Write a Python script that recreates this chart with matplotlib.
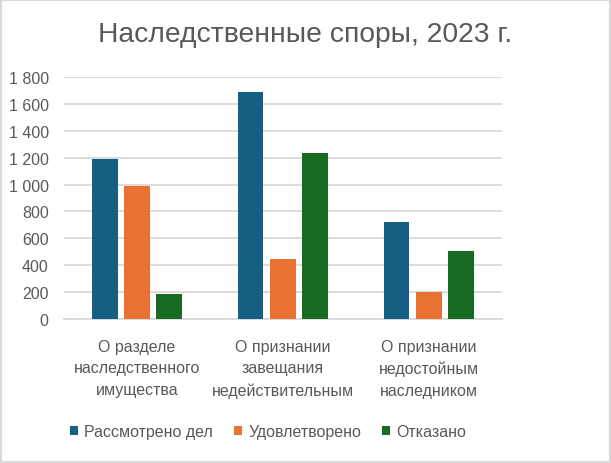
import numpy as np
import matplotlib
matplotlib.use('Agg')
import matplotlib.pyplot as plt
from matplotlib.patches import Rectangle
from matplotlib.ticker import FuncFormatter

plt.rcParams['font.family'] = ['Liberation Sans', 'DejaVu Sans']

categories = ['О разделе\nнаследственного\nимущества',
              'О признании\nзавещания\nнедействительным',
              'О признании\nнедостойным\nнаследником']
series_names = ['Рассмотрено дел', 'Удовлетворено', 'Отказано']
considered = [1190, 1687, 722]
satisfied = [990, 450, 205]
refused = [190, 1235, 508]
colors = ['#156082', '#E97132', '#196B24']

fig = plt.figure(figsize=(6.11, 4.64), dpi=100)
ax = fig.add_axes([64 / 611, 1 - 320.3 / 464, (501.7 - 64) / 611, (320.3 - 77.7) / 464])

x = np.arange(len(categories))
width = 0.176
step = 0.221
for i, (vals, name, c) in enumerate(zip([considered, satisfied, refused], series_names, colors)):
    ax.bar(x + (i - 1) * step, vals, width, color=c, label=name, zorder=3)

ax.set_xlim(-0.5, 2.5)
ax.set_ylim(0, 1800)
ax.set_yticks(np.arange(0, 1801, 200))
ax.yaxis.set_major_formatter(FuncFormatter(lambda v, p: f'{int(v):,}'.replace(',', ' ')))
ax.grid(axis='y', color='#d9d9d9', linewidth=1.3, zorder=0)
for s in ['top', 'right', 'left']:
    ax.spines[s].set_visible(False)
ax.spines['bottom'].set_color('#d9d9d9')
ax.spines['bottom'].set_linewidth(1.3)
ax.tick_params(axis='both', length=0, labelsize=11.5, colors='#595959')
ax.tick_params(axis='y', pad=11)
ax.set_xticks(x)
ax.set_xticklabels(categories, linespacing=1.55)
ax.tick_params(axis='x', pad=14)

fig.text(0.5, 1 - 35 / 464, 'Наследственные споры, 2023 г.', ha='center', va='center',
         fontsize=20.3, color='#595959')

leg = fig.legend(loc='center left', bbox_to_anchor=(70 / 611, 1 - 433 / 464), ncol=3, frameon=False,
                 fontsize=11.5, handlelength=0.5, handleheight=0.5, handletextpad=0.4,
                 columnspacing=1.3, labelcolor='#595959', borderpad=0, borderaxespad=0)

fig.patches.append(Rectangle((0.002, 0.002), 0.996, 0.996, transform=fig.transFigure,
                             fill=False, edgecolor='#d9d9d9', linewidth=1.5))

fig.savefig('out.png', dpi=100)
